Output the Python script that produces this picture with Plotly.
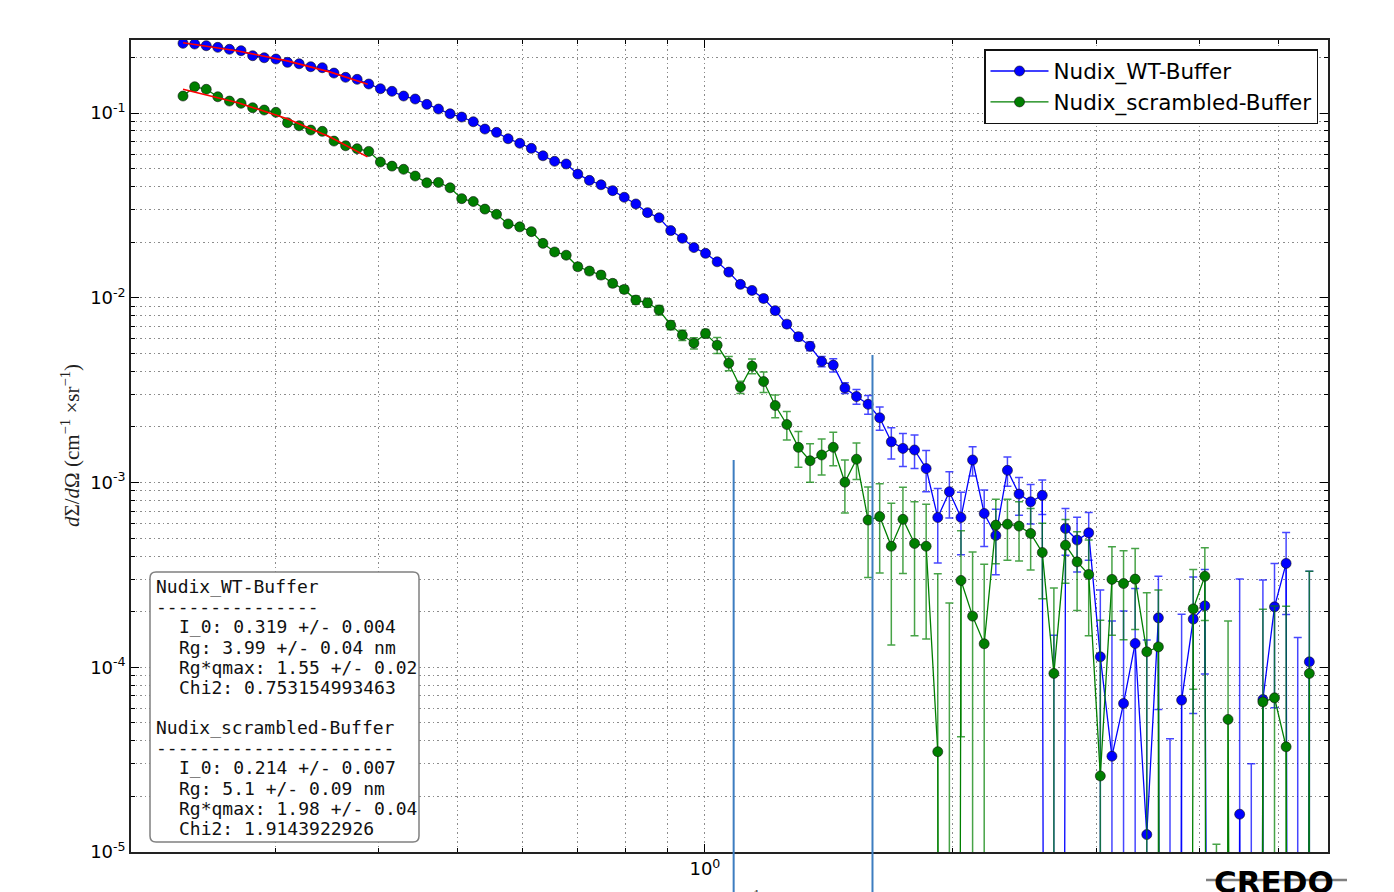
import math
import plotly.graph_objects as go

# ---------------- data ----------------
q = [0.2314, 0.2391, 0.2470, 0.2551, 0.2636, 0.2723, 0.2813, 0.2906, 0.3003, 0.3102,
     0.3205, 0.3311, 0.3420, 0.3534, 0.3651, 0.3771, 0.3896, 0.4025, 0.4158, 0.4296,
     0.4438, 0.4585, 0.4737, 0.4894, 0.5056, 0.5223, 0.5396, 0.5575, 0.5759, 0.5950,
     0.6147, 0.6350, 0.6561, 0.6778, 0.7002, 0.7234, 0.7473, 0.7721, 0.7976, 0.8240,
     0.8513, 0.8795, 0.9086, 0.9387, 0.9697, 1.0018, 1.0350, 1.0693, 1.1047, 1.1412,
     1.1790, 1.2180, 1.2583, 1.2999, 1.3430, 1.3874, 1.4333, 1.4808, 1.5298, 1.5804,
     1.6327, 1.6868, 1.7426, 1.8003, 1.8599, 1.9214, 1.9850, 2.0507, 2.1186, 2.1887,
     2.2612, 2.3360, 2.4133, 2.4932, 2.5758, 2.6610, 2.7491, 2.8401, 2.9341, 3.0312,
     3.1316, 3.2352, 3.3423, 3.4530, 3.5673, 3.6853, 3.8073, 3.9334, 4.0636, 4.1981,
     4.3370, 4.4806, 4.6289, 4.7821, 4.9404, 5.1039, 5.2729, 5.4474]

I_wt = [0.2384, 0.2363, 0.2314, 0.2268, 0.2213, 0.2175, 0.2043, 0.1992, 0.1960, 0.1881,
        0.1848, 0.1781, 0.1759, 0.1646, 0.1561, 0.1522, 0.1436, 0.1354, 0.1311, 0.1236,
        0.1191, 0.1114, 0.1051, 0.0991, 0.0951, 0.0897, 0.0819, 0.0786, 0.0726, 0.0686,
        0.0644, 0.0587, 0.0548, 0.0530, 0.0467, 0.0432, 0.0409, 0.0380, 0.0350, 0.0322,
        0.0289, 0.0271, 0.0231, 0.0210, 0.0187, 0.0174, 0.01566, 0.01377, 0.01182, 0.01096,
        0.00991, 0.00852, 0.00720, 0.00616, 0.00546, 0.00452, 0.00432, 0.00325, 0.00292, 0.00265,
        0.00224, 0.00166, 0.00153, 0.00150, 0.00119, 0.000647, 0.000892, 0.000647, 0.001324, 0.000680,
        0.000517, 0.001164, 0.000866, 0.000786, 0.000852, -5.1e-5, 0.000564, 0.000488, 0.000534, 0.0001139,
        3.30e-5, 6.37e-5, 1.345e-4, 1.243e-5, 1.851e-4, -7.9e-5, 6.64e-5, 1.822e-4, 2.150e-4, -2.0e-4,
        -1.8e-4, 1.602e-5, -2.6e-4, 6.69e-5, 2.123e-4, 3.65e-4, -5.5e-5, 1.07e-4]

dI_wt = [0.0024, 0.0023, 0.0023, 0.0022, 0.0022, 0.0021, 0.0020, 0.0020, 0.0019, 0.0019,
         0.0018, 0.0018, 0.0017, 0.0016, 0.0016, 0.0015, 0.0015, 0.0014, 0.0014, 0.0013,
         0.0013, 0.0012, 0.0012, 0.0011, 0.0011, 0.0010, 0.0010, 0.0009, 0.0009, 0.0009,
         0.0008, 0.0008, 0.0008, 0.0008, 0.0007, 0.0007, 0.0007, 0.0007, 0.0006, 0.0006,
         0.0006, 0.0006, 0.0005, 0.0005, 0.0005, 0.0005, 0.0004, 0.0004, 0.0004, 0.0004,
         0.0004, 0.0003, 0.0003, 0.0003, 0.0003, 0.00029, 0.00036, 0.00022, 0.00027, 0.00031,
         0.00032, 0.00032, 0.00031, 0.00031, 0.00030, 0.00028, 0.00025, 0.00024, 0.00024, 0.00023,
         0.00020, 0.00021, 0.00020, 0.00019, 0.00018, 0.00020, 0.00016, 0.00016, 0.000155, 0.000148,
         0.000145, 0.000138, 0.000132, 0.000128, 0.000126, 0.00012, 0.000127, 0.000126, 0.000123, 0.00012,
         0.00012, 0.000284, 0.00029, 0.00023, 0.000152, 0.000172, 0.00020, 0.000224]

I_scr = [0.1236, 0.1388, 0.1344, 0.1225, 0.1161, 0.1129, 0.1068, 0.1038, 0.1009, 0.0886,
         0.0853, 0.0809, 0.0796, 0.0705, 0.0665, 0.0641, 0.0620, 0.0543, 0.0516, 0.0496,
         0.0456, 0.0419, 0.0421, 0.0394, 0.0344, 0.0332, 0.0302, 0.0283, 0.0251, 0.0242,
         0.0228, 0.0197, 0.0177, 0.0170, 0.01472, 0.01395, 0.01327, 0.01197, 0.01110, 0.00972,
         0.00939, 0.00858, 0.00711, 0.00628, 0.00568, 0.00640, 0.00554, 0.00442, 0.00328, 0.00427,
         0.00352, 0.00261, 0.00206, 0.00155, 0.001312, 0.001409, 0.001551, 0.001004, 0.001337, 0.000626,
         0.000654, 0.000452, 0.000632, 0.000468, 0.000452, 3.49e-5, -6.7e-5, 2.95e-4, 1.891e-4, 1.340e-4,
         5.88e-4, 5.95e-4, 5.81e-4, 5.30e-4, 4.18e-4, 9.26e-5, 4.58e-4, 3.72e-4, 3.18e-4, 2.58e-5,
         2.99e-4, 2.84e-4, 3.00e-4, 1.212e-4, 1.289e-4, -1.6e-4, -1.5e-4, 2.07e-4, 3.11e-4, -1.29e-4,
         5.22e-5, -1.7e-4, -1.7e-4, 6.49e-5, 6.83e-5, 3.71e-5, -1.8e-4, 9.26e-5]

dI_scr = [0.0025, 0.0025, 0.0024, 0.0023, 0.0022, 0.0021, 0.0020, 0.0019, 0.0018, 0.0017,
          0.0016, 0.0015, 0.0015, 0.0014, 0.0013, 0.0013, 0.0012, 0.0012, 0.0011, 0.0011,
          0.0010, 0.0010, 0.0010, 0.0009, 0.0009, 0.0009, 0.0008, 0.0008, 0.0008, 0.0007,
          0.0007, 0.0007, 0.0007, 0.0006, 0.0006, 0.0006, 0.0006, 0.0005, 0.0005, 0.0005,
          0.0005, 0.0005, 0.0004, 0.0004, 0.0004, 0.00033, 0.00055, 0.00039, 0.00025, 0.00039,
          0.00045, 0.00037, 0.00036, 0.00034, 0.00031, 0.00031, 0.00032, 0.00032, 0.00030, 0.00032,
          0.00033, 0.00032, 0.00031, 0.00032, 0.00031, 0.000286, 0.00029, 0.000253, 0.000232, 0.000227,
          0.000225, 0.000216, 0.000205, 0.000194, 0.000183, 0.000176, 0.000173, 0.000169, 0.00017, 0.000154,
          0.00015, 0.000143, 0.00014, 0.000132, 0.000133, 0.00013, 0.00013, 0.000131, 0.000132, 0.00014,
          0.000126, 0.00013, 0.00013, 0.000141, 0.000146, 0.000177, 0.00013, 0.000238]

# Guinier fit curves (red lines)
fit_q_wt = [0.2314, 0.27, 0.31, 0.35, 0.3885]
fit_I_wt = [0.2401, 0.2167, 0.1916, 0.1665, 0.1433]
fit_q_scr = [0.2314, 0.27, 0.31, 0.35, 0.3882]
fit_I_scr = [0.1345, 0.1137, 0.0930, 0.0740, 0.0579]

series_names = ["Nudix_WT-Buffer", "Nudix_scrambled-Buffer"]

# fit report text
report_wt = ["Nudix_WT-Buffer", "---------------",
             "I_0: 0.319 +/- 0.004", "Rg: 3.99 +/- 0.04 nm",
             "Rg*qmax: 1.55 +/- 0.02", "Chi2: 0.753154993463"]
report_scr = ["Nudix_scrambled-Buffer", "----------------------",
              "I_0: 0.214 +/- 0.007", "Rg: 5.1 +/- 0.09 nm",
              "Rg*qmax: 1.98 +/- 0.04", "Chi2: 1.9143922926"]

# axes
x_range = [0.2, 5.74]
y_range = [1e-5, 0.2485]
x_major = [1]
x_major_text = ["10<sup>0</sup>"]
x_minor = [0.2, 0.3, 0.4, 0.5, 0.6, 0.7, 0.8, 0.9, 2, 3, 4, 5]
y_major = [1e-5, 1e-4, 1e-3, 1e-2, 1e-1]
y_major_text = ["10<sup>-5</sup>", "10<sup>-4</sup>", "10<sup>-3</sup>",
                "10<sup>-2</sup>", "10<sup>-1</sup>"]
y_minor = [m * 10.0 ** e for e in range(-5, 0) for m in range(2, 10)]

# vertical marker lines (q position, top intensity)
vline_q = [1.084, 1.6]
vline_top = [1.322e-3, 4.895e-3]

# ---------------- figure ----------------
W, H = 1394, 892
L, R, T, B = 131, 1328, 40, 852
FLOOR = 1e-30

def px_x(px):
    return (px - L) / (R - L)

def px_y(py):
    return (B - py) / (B - T)

lx0, lx1 = math.log10(x_range[0]), math.log10(x_range[1])
ly0, ly1 = math.log10(y_range[0]), math.log10(y_range[1])

def data_px(qv):
    return (math.log10(qv) - lx0) / (lx1 - lx0)

def data_py(iv):
    return (math.log10(iv) - ly0) / (ly1 - ly0)

def prep(I, dI):
    y, plus, minus = [], [], []
    for v, e in zip(I, dI):
        yv = v if v > 0 else FLOOR
        up = v + e
        if up <= 0:
            plus.append(0.0)
            minus.append(0.0)
        else:
            plus.append(up - yv)
            minus.append(yv - (v - e))
        y.append(yv)
    return y, plus, minus

fig = go.Figure()

colors = ["#0000ff", "#007f00"]
err_colors = ["rgba(0,0,255,0.72)", "rgba(0,127,0,0.72)"]
for name, I, dI, c, ec in zip(series_names, [I_wt, I_scr], [dI_wt, dI_scr], colors, err_colors):
    y, plus, minus = prep(I, dI)
    fig.add_trace(go.Scatter(
        x=q, y=y, name=name, mode="lines+markers",
        line=dict(color=c, width=1.3),
        marker=dict(color=c, size=10, line=dict(color="#111111", width=0.6)),
        error_y=dict(type="data", symmetric=False, array=plus, arrayminus=minus,
                     color=ec, thickness=1.5, width=4),
    ))

for fq, fi in [(fit_q_wt, fit_I_wt), (fit_q_scr, fit_I_scr)]:
    fig.add_trace(go.Scatter(x=fq, y=fi, mode="lines", showlegend=False,
                             line=dict(color="#ff0000", width=1.6)))

grid_col = "#8c8c8c"
grid_dash = "1.5px,3px"
axis_common = dict(
    type="log", ticks="inside", ticklen=8, tickwidth=1, tickcolor="black",
    showline=True, linecolor="#222222", linewidth=1.5, mirror="allticks",
    showgrid=True, gridcolor=grid_col, griddash=grid_dash, gridwidth=1,
    zeroline=False, tickfont=dict(family="DejaVu Sans", size=18, color="black"),
)

fig.update_xaxes(range=[lx0, lx1], tickmode="array", tickvals=x_major, ticktext=x_major_text,
                 minor=dict(tickmode="array", tickvals=x_minor, ticks="inside", ticklen=4,
                            tickcolor="black", showgrid=True, gridcolor=grid_col,
                            griddash=grid_dash, gridwidth=1),
                 **axis_common)
fig.update_yaxes(range=[ly0, ly1], tickmode="array", tickvals=y_major, ticktext=y_major_text,
                 minor=dict(tickmode="array", tickvals=y_minor, ticks="inside", ticklen=4,
                            tickcolor="black", showgrid=True, gridcolor=grid_col,
                            griddash=grid_dash, gridwidth=1),
                 **axis_common)

shapes = []
for vq, vt in zip(vline_q, vline_top):
    xp = data_px(vq)
    shapes.append(dict(type="line", xref="paper", yref="paper", x0=xp, x1=xp,
                       y0=-0.2, y1=data_py(vt), line=dict(color="#3d7dc0", width=2), layer="above"))

# rounded report box
bx0, bx1, by0, by1 = px_x(150), px_x(419), px_y(842), px_y(572)
rx, ry = 6 / (R - L), 6 / (B - T)
path = (f"M {bx0+rx},{by0} L {bx1-rx},{by0} Q {bx1},{by0} {bx1},{by0+ry} "
        f"L {bx1},{by1-ry} Q {bx1},{by1} {bx1-rx},{by1} "
        f"L {bx0+rx},{by1} Q {bx0},{by1} {bx0},{by1-ry} "
        f"L {bx0},{by0+ry} Q {bx0},{by0} {bx0+rx},{by0} Z")
shapes.append(dict(type="path", xref="paper", yref="paper", path=path,
                   fillcolor="white", line=dict(color="#808080", width=1.5), layer="above"))

# CREDO strike line
shapes.append(dict(type="line", xref="paper", yref="paper", x0=px_x(1206), x1=px_x(1347),
                   y0=px_y(880), y1=px_y(880), line=dict(color="#808080", width=2.5)))

annotations = []
line_y = [586, 606, 626.5, 647, 667, 687]
line_y2 = [727, 747.5, 767.5, 788, 808, 828]
for lines, ys in [(report_wt, line_y), (report_scr, line_y2)]:
    for k, (txt, yy) in enumerate(zip(lines, ys)):
        xx = 154 if k < 2 else 177
        annotations.append(dict(text=txt, xref="paper", yref="paper", x=px_x(xx), y=px_y(yy),
                                xanchor="left", yanchor="middle", showarrow=False,
                                font=dict(family="DejaVu Sans Mono", size=18, color="#111111")))

annotations.append(dict(text="<i>d</i>Σ/<i>d</i>Ω (cm<sup>−1</sup> ×sr<sup>−1</sup>)",
                        xref="paper", yref="paper", x=px_x(70), y=px_y(446), textangle=-90,
                        xanchor="center", yanchor="middle", showarrow=False,
                        font=dict(family="Liberation Serif", size=21, color="#222222")))
annotations.append(dict(text="<i>q</i> (nm<sup>−1</sup>)",
                        xref="paper", yref="paper", x=px_x(735), y=px_y(899),
                        xanchor="center", yanchor="middle", showarrow=False,
                        font=dict(family="Liberation Serif", size=18, color="#222222")))
annotations.append(dict(text="<b>CREDO</b>", xref="paper", yref="paper", x=px_x(1274), y=px_y(882),
                        xanchor="center", yanchor="middle", showarrow=False,
                        font=dict(family="DejaVu Sans", size=31, color="black")))

fig.update_layout(
    width=W, height=H, margin=dict(l=L, r=W - R, t=T, b=H - B, pad=0),
    paper_bgcolor="white", plot_bgcolor="white",
    shapes=shapes, annotations=annotations,
    legend=dict(x=px_x(1318), y=px_y(49), xanchor="right", yanchor="top",
                bgcolor="white", bordercolor="#111111", borderwidth=1.5,
                font=dict(family="DejaVu Sans", size=21.5, color="black"),
                itemwidth=58, tracegroupgap=0),
    showlegend=True,
)

fig.write_html("out.html", config={"displayModeBar": False},
               post_script="document.body.style.margin='0px';document.body.style.overflow='hidden';")
